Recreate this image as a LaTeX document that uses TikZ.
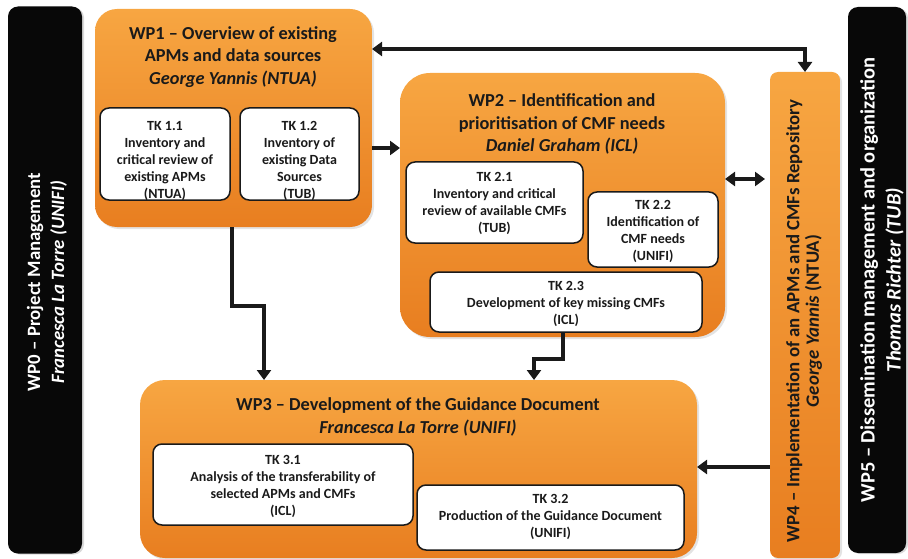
\documentclass[tikz,border=0pt]{standalone}
\usepackage{fontspec}
\setmainfont{Carlito}
\usetikzlibrary{arrows.meta,shadows}
\definecolor{orgtop}{RGB}{247,166,66}
\definecolor{orgbot}{RGB}{232,126,32}
\definecolor{ink}{RGB}{26,26,26}
\definecolor{blk}{RGB}{8,8,8}
\tikzset{
  wpbox/.style={draw=none, top color=orgtop, bottom color=orgbot, inner sep=0pt, outer sep=0pt,
    drop shadow={opacity=0.22, shadow xshift=2pt, shadow yshift=-2pt}},
  tkbox/.style={draw=ink, fill=white, line width=1.5pt, rounded corners=9pt, inner sep=0pt, outer sep=0pt},
  blkbox/.style={draw=none, fill=blk, rounded corners=10pt, inner sep=0pt, outer sep=0pt,
    drop shadow={opacity=0.3, shadow xshift=2pt, shadow yshift=-1pt}},
  wptitle/.style={align=center, text=ink, font=\fontsize{18.3}{22.5}\selectfont\bfseries, inner sep=0pt},
  tktext/.style={align=center, text=ink, font=\fontsize{14}{17}\selectfont\bfseries, inner sep=0pt},
  sidetext/.style={align=center, text=white, rotate=90, inner sep=0pt},
  arr/.style={draw=ink, line width=3.4pt, -{Triangle[length=10pt,width=14pt]}},
  both/.style={draw=ink, line width=3.4pt, {Triangle[length=10pt,width=14pt]}-{Triangle[length=10pt,width=14pt]}},
}
\begin{document}
\begin{tikzpicture}[x=1pt,y=-1pt]
\useasboundingbox (0,0) rectangle (908,559);
% side black boxes
\node[blkbox, minimum width=74pt, minimum height=547pt] (wp0) at (45,280) {};
\node[sidetext, font=\fontsize{18.8}{24}\selectfont\bfseries] (wp0t) at (47,282)
  {WP0 -- Project Management\\\textit{Francesca La Torre (UNIFI)}};
\node[blkbox, minimum width=58pt, minimum height=546pt] (wp5) at (877,280) {};
\node[sidetext, font=\fontsize{20.5}{26}\selectfont\bfseries] (wp5t) at (882,280)
  {WP5 -- Dissemination management and organization\\\textit{Thomas Richter (TUB)}};
% WP4
\node[wpbox, rounded corners=8pt, minimum width=70pt, minimum height=486pt] (wp4) at (805,315) {};
\node[sidetext, text=ink, font=\fontsize{18.8}{19.5}\selectfont\bfseries] (wp4t) at (804,321)
  {WP4 -- Implementation of an APMs and CMFs Repository\\\textit{George Yannis} (NTUA)};
% WP1
\node[wpbox, rounded corners=22pt, minimum width=277pt, minimum height=218pt] (wp1) at (233.5,118) {};
\node[wptitle] (wp1t) at (233,57) {WP1 -- Overview of existing\\APMs and data sources\\\textit{George Yannis (NTUA)}};
\node[tkbox, minimum width=130pt, minimum height=92pt] (tk11) at (165,154) {};
\node[tktext] (tk11t) at (165,161) {TK 1.1\\Inventory and\\critical review of\\existing APMs\\(NTUA)};
\node[tkbox, minimum width=119pt, minimum height=92pt] (tk12) at (299.5,154) {};
\node[tktext] (tk12t) at (299.5,161) {TK 1.2\\Inventory of\\existing Data\\Sources\\(TUB)};
% WP2
\node[wpbox, rounded corners=30pt, minimum width=325pt, minimum height=264pt] (wp2) at (562.5,205) {};
\node[wptitle] (wp2t) at (562,124) {WP2 -- Identification and\\prioritisation of CMF needs\\\textit{Daniel Graham (ICL)}};
\node[tkbox, minimum width=177pt, minimum height=81pt] (tk21) at (494.5,202.5) {};
\node[tktext] (tk21t) at (494.5,203) {TK 2.1\\Inventory and critical\\review of available CMFs\\(TUB)};
\node[tkbox, minimum width=130pt, minimum height=75pt] (tk22) at (653,229.5) {};
\node[tktext] (tk22t) at (653,231.5) {TK 2.2\\Identification of\\CMF needs\\(UNIFI)};
\node[tkbox, minimum width=272pt, minimum height=60pt] (tk23) at (566,302) {};
\node[tktext] (tk23t) at (566,304) {TK 2.3\\Development of key missing CMFs\\(ICL)};
% WP3
\node[wpbox, rounded corners=25pt, minimum width=557pt, minimum height=178pt] (wp3) at (418.5,469) {};
\node[wptitle] (wp3t) at (418,417) {WP3 -- Development of the Guidance Document\\\textit{Francesca La Torre (UNIFI)}};
\node[tkbox, minimum width=260pt, minimum height=81pt] (tk31) at (283,484.5) {};
\node[tktext] (tk31t) at (283,486) {TK 3.1\\Analysis of the transferability of\\selected APMs and CMFs\\(ICL)};
\node[tkbox, minimum width=267pt, minimum height=65pt] (tk32) at (550.5,517.5) {};
\node[tktext] (tk32t) at (550.5,517) {TK 3.2\\Production of the Guidance Document\\(UNIFI)};
% connectors
\coordinate (c1) at (805,49);
\coordinate (c2) at (0,148);
\coordinate (c3) at (0,179);
\coordinate (c4) at (0,467);
\coordinate (c5a) at (232,306);
\coordinate (c5b) at (264,306);
\coordinate (c6a) at (563,359);
\coordinate (c6b) at (534,359);
\draw[both] (wp1.east |- c1) -| (wp4.north);
\draw[arr] (wp1.east |- c2) -- (wp2.west |- c2);
\draw[both, shorten >=5pt] (wp2.east |- c3) -- (wp4.west |- c3);
\draw[arr] (wp4.west |- c4) -- (wp3.east |- c4);
\draw[arr] (wp1.south -| c5a) |- (c5b) -- (wp3.north -| c5b);
\draw[arr] (tk23.south -| c6a) |- (c6b) -- (wp3.north -| c6b);
\end{tikzpicture}
\end{document}
